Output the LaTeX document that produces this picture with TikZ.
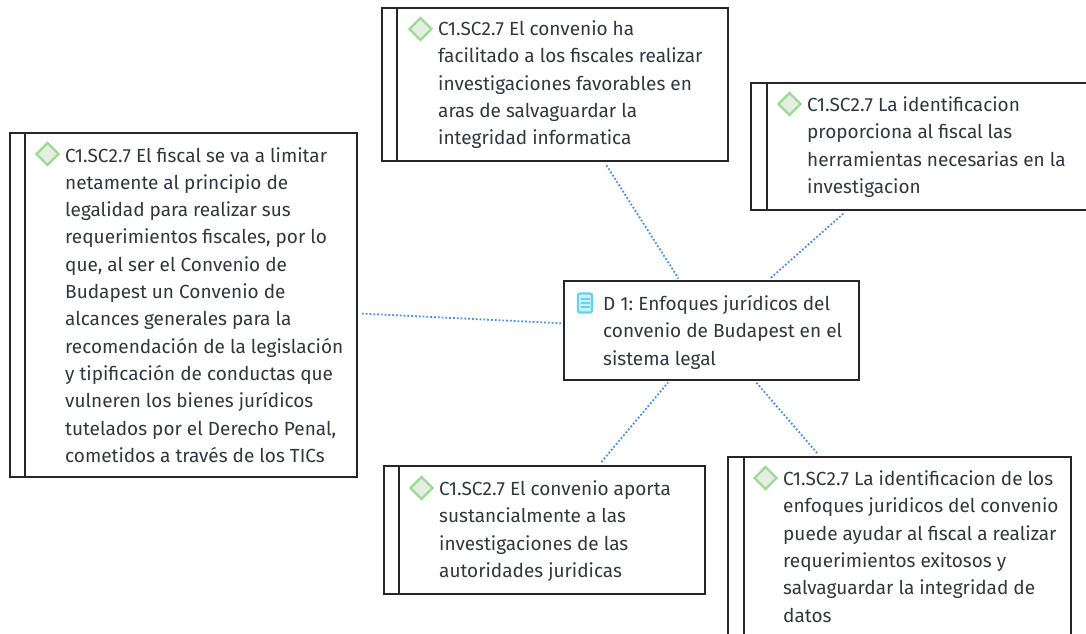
\documentclass[tikz,border=0pt]{standalone}
\usepackage{fontspec}
\setmainfont{Fira Sans}
\usetikzlibrary{shapes.geometric}
\definecolor{ink}{HTML}{34363F}
\definecolor{link}{HTML}{4A90E2}
\definecolor{dline}{HTML}{A0D898}
\definecolor{dfill}{HTML}{E4EFE0}
\definecolor{docl}{HTML}{62D2EE}
\definecolor{docf}{HTML}{CDEFF9}
\tikzset{
  x=1pt,y=-1pt,
  boxn/.style={draw=black!85,line width=1.8pt,fill=white,inner sep=0pt},
  bar/.style={draw=black!85,line width=1.8pt},
  txt/.style={anchor=north west,inner sep=0pt,align=left,text=ink,font=\fontsize{19}{27.3}\selectfont\frenchspacing},
  dia/.style={diamond,draw=dline,fill=dfill,line width=2.4pt,minimum width=23pt,minimum height=23pt,inner sep=0pt},
  linkl/.style={draw=link,line width=1.8pt,dotted,shorten >=2pt,shorten <=4pt},
}
\newcommand{\mkbox}[6]{% name, x0,y0,x1,y1,bar
  \node[boxn,minimum width=#4-#2,minimum height=#5-#3] (#1) at ({(#2+#4)/2},{(#3+#5)/2}) {};
  \ifx\relax#6\relax\else
  \draw[bar] ([xshift=#6]#1.north west) -- ([xshift=#6]#1.south west);
  \fi
}
\begin{document}
\begin{tikzpicture}
\useasboundingbox (0,0) rectangle (1086,633);
\mkbox{top}{382}{8}{728}{161}{15.5}
\mkbox{rgt}{751}{83}{1086.6}{210}{16.5}
\mkbox{lft}{10}{133}{357}{477}{15.5}
\mkbox{cen}{564}{281}{859}{380}{}
\mkbox{bot}{384}{466}{705}{594}{15.5}
\mkbox{brt}{728}{457}{1071}{640}{16.5}
\foreach \n in {top,rgt,lft,bot,brt} \draw[linkl] (\n) -- (cen);
% top
\node[dia] (d1) at (420.5,29) {};
\node[txt] (t1) at (438,20.5) {C1.SC2.7 El convenio ha\\facilitado a los fiscales realizar\\investigaciones favorables en\\aras de salvaguardar la\\integridad informatica};
% right
\node[dia] (d2) at (789.5,104) {};
\node[txt] (t2) at (807,96.5) {C1.SC2.7 La identificacion\\proporciona al fiscal las\\herramientas necesarias en la\\investigacion};
% left
\node[dia] (d3) at (47.5,154) {};
\node[txt] (t3) at (65,147) {C1.SC2.7 El fiscal se va a limitar\\netamente al principio de\\legalidad para realizar sus\\requerimientos fiscales, por lo\\que, al ser el Convenio de\\Budapest un Convenio de\\alcances generales para la\\recomendación de la legislación\\y tipificación de conductas que\\vulneren los bienes jurídicos\\tutelados por el Derecho Penal,\\cometidos a través de los TICs};
% centre
\node[draw=docl,fill=docf,line width=2.2pt,rounded corners=2pt,minimum width=14pt,minimum height=19pt,inner sep=0pt] (d4) at (585,303) {};
\foreach \yy in {299,303,307} \draw[docl,line width=1.3pt] (580.5,\yy) -- (589.5,\yy);
\node[txt] (t4) at (603,295) {D 1: Enfoques jurídicos del\\convenio de Budapest en el\\sistema legal};
% bottom
\node[dia] (d5) at (421.5,488) {};
\node[txt] (t5) at (439,480.5) {C1.SC2.7 El convenio aporta\\sustancialmente a las\\investigaciones de las\\autoridades juridicas};
% bottom right
\node[dia] (d6) at (765.5,478) {};
\node[txt] (t6) at (783,470.5) {C1.SC2.7 La identificacion de los\\enfoques juridicos del convenio\\puede ayudar al fiscal a realizar\\requerimientos exitosos y\\salvaguardar la integridad de\\datos};
\end{tikzpicture}
\end{document}
